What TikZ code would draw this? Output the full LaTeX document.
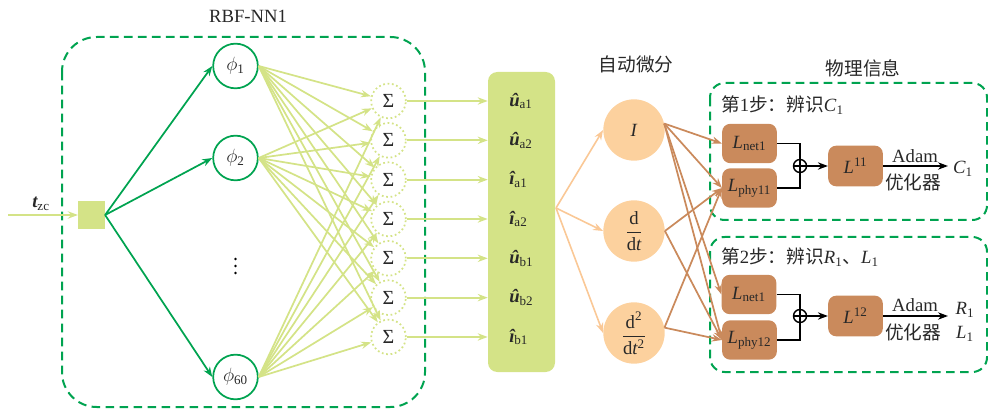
\documentclass[tikz,border=0pt]{standalone}
\usepackage{fontspec}
\usepackage{amsmath}
\setmainfont{Liberation Serif}
\newfontfamily\cjk{Noto Sans CJK SC}
\usetikzlibrary{arrows.meta}

\definecolor{netgreen}{RGB}{0,163,80}
\definecolor{lightgreen}{RGB}{212,227,135}
\definecolor{peach}{RGB}{252,209,158}
\definecolor{peachline}{RGB}{250,200,150}
\definecolor{lossbrown}{RGB}{202,138,92}
\definecolor{txt}{RGB}{40,40,40}

\begin{document}
\begin{tikzpicture}[x=0.75pt,y=-0.75pt,
  font=\fontsize{14pt}{16pt}\selectfont,
  every node/.append style={text=txt},
  tipS/.style={-{Stealth[length=7.5pt,width=5.5pt]}},
  region/.style={draw=netgreen,line width=1.5pt,dash pattern=on 6.5pt off 4pt},
  phinode/.style={circle,draw=netgreen,line width=1.3pt,minimum size=33.5pt,inner sep=0pt},
  signode/.style={circle,draw=lightgreen,line width=1.3pt,dotted,minimum size=26pt,inner sep=0pt,
    font=\fontsize{15pt}{17pt}\selectfont},
  dnode/.style={circle,fill=peach,minimum size=46pt,inner sep=0pt},
  lossbox/.style={rounded corners=6pt,fill=lossbrown,minimum width=41pt,minimum height=29.5pt,inner sep=0pt},
  greenlink/.style={draw=netgreen,line width=1.3pt,tipS},
  lglink/.style={draw=lightgreen,line width=1.3pt,tipS},
  peachlink/.style={draw=peachline,line width=1.2pt,tipS},
  brownlink/.style={draw=lossbrown,line width=1.3pt,tipS},
  blacklink/.style={draw=black,line width=1.1pt},
  opl/.style={circle,draw=black,line width=1.1pt,minimum size=9.75pt,inner sep=0pt,
    path picture={\draw[line width=1.1pt]
      (path picture bounding box.north) -- (path picture bounding box.south)
      (path picture bounding box.west) -- (path picture bounding box.east);}},
  steplabel/.style={anchor=west,inner sep=0pt},
]
\useasboundingbox (0,0) rectangle (988,409);

% ---------- RBF network ----------
\node at (248,16) {RBF-NN1};
\draw[region,rounded corners=26pt] (62,37) rectangle (425,407);

\node[fill=lightgreen,minimum width=20pt,minimum height=21pt,inner sep=0pt] (sq) at (91.5,215) {};
\coordinate (tin) at (8,215);
\draw[lglink] (tin) -- (sq.west);
\node at (41,204) {{\bfseries\itshape t}\textsubscript{zc}};

\node[phinode] (phiA) at (235.5,66) {$\phi_{\text{1}}$};
\node[phinode] (phiB) at (235.5,158) {$\phi_{\text{2}}$};
\node[phinode] (phiC) at (235.5,377) {$\phi_{\text{60}}$};
% vertical ellipsis between the hidden units
\foreach \yy in {259,266,273}
  \fill[black] (235.5,\yy) circle (0.95pt);

\foreach \p in {phiA,phiB,phiC}
  \draw[greenlink] (sq.east) -- (\p.west);

\foreach \i in {1,...,7}
  \node[signode] (s\i) at (388.5,{101+39.33*(\i-1)}) {Σ};

\foreach \p in {phiA,phiB,phiC}
  \foreach \i in {1,...,7}
    \draw[lglink] (\p.east) -- (s\i);

% ---------- network outputs ----------
\node[fill=lightgreen,rounded corners=7pt,minimum width=50.25pt,minimum height=225pt,inner sep=0pt] (vec) at (521.5,222) {};
\foreach \i in {1,...,7}
  \draw[lglink] (s\i.east) -- (s\i.east -| vec.west);
\foreach \i/\c/\s in {1/û/a1,2/û/a2,3/î/a1,4/î/a2,5/û/b1,6/û/b2,7/î/b1}
  \node[anchor=west,inner sep=0pt] (v\i) at (509,{101+39.33*(\i-1)}) {{\bfseries\itshape \c}\textsubscript{\s}};

% ---------- automatic differentiation ----------
\node at (636,64) {\cjk 自动微分};
\coordinate (fan) at (556,208);
\node[dnode] (I) at (634,130) {\textit{I}};
\node[dnode] (ddt) at (634,231) {$\dfrac{\text{d}}{\text{d}\textit{t}}$};
\node[dnode] (dd) at (634,333) {$\dfrac{\text{d}^{\text{2}}}{\text{d}\textit{t}^{\text{2}}}$};
\foreach \n in {I,ddt,dd}
  \draw[peachlink] (fan) -- (\n.west);

% ---------- physics-informed losses ----------
\node at (863,68) {\cjk 物理信息};
\draw[region,rounded corners=11pt] (710,83) rectangle (987,220);
\draw[region,rounded corners=11pt] (710,237) rectangle (987,372);

\node[steplabel] at (721,105) {{\cjk 第}1{\cjk 步：辨识}\textit{C}\textsubscript{1}};
\node[steplabel] at (721,257) {{\cjk 第}2{\cjk 步：辨识}\textit{R}\textsubscript{1}{\cjk 、}\textit{L}\textsubscript{1}};

\node[lossbox] (netA) at (749.5,143.5) {\textit{L}\textsubscript{net1}};
\node[lossbox] (phyA) at (749.5,188) {\textit{L}\textsubscript{phy11}};
\node[lossbox] (netB) at (749,294.5) {\textit{L}\textsubscript{net1}};
\node[lossbox] (phyB) at (749.5,340) {\textit{L}\textsubscript{phy12}};
\node[lossbox,minimum height=30.5pt] (LA) at (855.5,166) {\textit{L}\textsuperscript{11}};
\node[lossbox,minimum height=30.5pt] (LB) at (855.5,316) {\textit{L}\textsuperscript{12}};

\foreach \t in {netA,phyA,netB,phyB}
  \draw[brownlink] (I.12) -- (\t.west);
\draw[brownlink] (ddt.east) -- (phyA.west);
\draw[brownlink] (ddt.east) -- (phyB.west);
\draw[brownlink] (dd.10) -- (phyA.west);
\draw[brownlink] (dd.10) -- (phyB.west);

% step 1
\node[opl] (oA) at (800,166) {};
\draw[blacklink] (netA.east) -| (oA.north);
\draw[blacklink] (phyA.east) -| (oA.south);
\draw[blacklink,tipS] (oA.east) -- (LA.west);
\coordinate (outA) at (948,166);
\draw[blacklink,tipS] (LA.east) -- (outA);
\node at (915,156) {Adam};
\node at (913,182) {\cjk 优化器};
\node at (963,169) {\textit{C}\textsubscript{1}};

% step 2
\node[opl] (oB) at (800,316) {};
\draw[blacklink] (netB.east) -| (oB.north);
\draw[blacklink] (phyB.east) -| (oB.south);
\draw[blacklink,tipS] (oB.east) -- (LB.west);
\coordinate (outB) at (948,316);
\draw[blacklink,tipS] (LB.east) -- (outB);
\node at (915,305) {Adam};
\node at (913,332) {\cjk 优化器};
\node at (965,310) {\textit{R}\textsubscript{1}};
\node at (965,334) {\textit{L}\textsubscript{1}};
\end{tikzpicture}
\end{document}
